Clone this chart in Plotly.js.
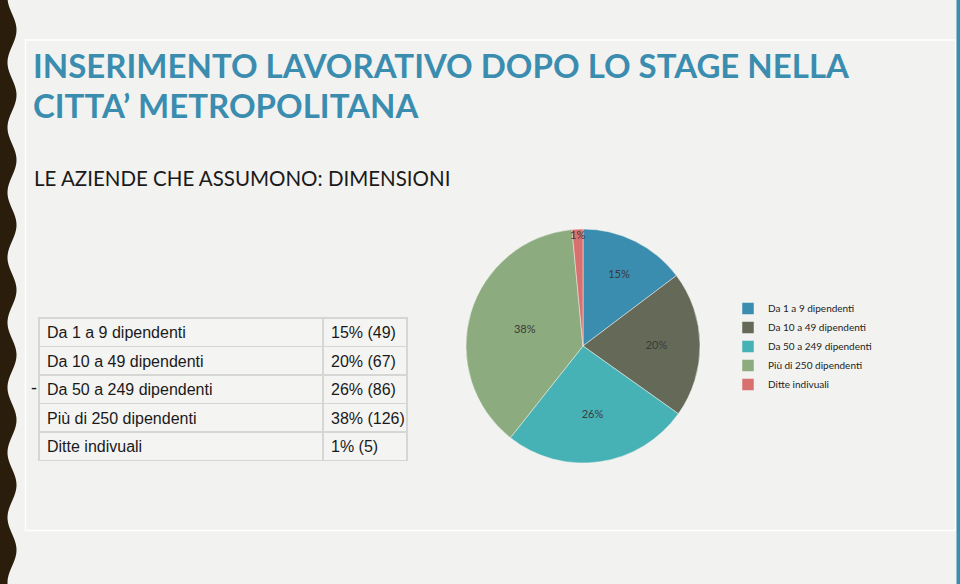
<!DOCTYPE html>
<html>
<head>
<meta charset="utf-8">
<script src="https://cdn.plot.ly/plotly-3.0.1.min.js"></script>
<style>
  html, body { margin: 0; padding: 0; background: #f2f2f0; }
  #chart { width: 960px; height: 584px; }
</style>
</head>
<body>
<div id="chart"></div>
<script>
// ---- Data ----
const categories = ["Da 1 a 9 dipendenti", "Da 10 a 49 dipendenti", "Da 50 a 249 dipendenti", "Più di 250 dipendenti", "Ditte indivuali"];
const tableLabels = ["Da 1 a 9 dipendenti", "Da 10 a 49 dipendenti", "Da 50 a 249 dipendenti", "Più di 250 dipendenti", "Ditte indivuali"];
const counts = [49, 67, 86, 126, 5];
const pctLabels = ["15%", "20%", "26%", "38%", "1%"];
const tableValues = ["15% (49)", "20% (67)", "26% (86)", "38% (126)", "1% (5)"];
const sliceColors = ["#3b8db0", "#646a57", "#47b2b6", "#8cab7e", "#d8706f"];

const titleLine1 = "INSERIMENTO LAVORATIVO DOPO LO STAGE NELLA";
const titleLine2 = "CITTA’ METROPOLITANA";
const subtitleText = "LE AZIENDE CHE ASSUMONO: DIMENSIONI";

// ---- helpers (pixel -> paper) ----
const W = 960, H = 584;
const X = p => p / W;
const Y = p => 1 - p / H;
const nb = s => s.split(" ").join("\u00a0");   // keep table cells on one line

// wavy left border (decoration)
let wave = "M 0," + Y(0);
for (let y = 0; y <= H; y += 2) {
  const x = 12 + 4.5 * Math.cos(2 * Math.PI * (y - 30) / 65);
  wave += " L " + X(x).toFixed(5) + "," + Y(y).toFixed(5);
}
wave += " L 0," + Y(H) + " Z";

const pie = {
  type: "pie",
  values: counts,
  labels: categories,
  text: pctLabels,
  textinfo: "text",
  textposition: "inside",
  insidetextorientation: "horizontal",
  sort: false,
  direction: "clockwise",
  rotation: 0,
  marker: { colors: sliceColors, line: { color: "#f2f2f0", width: 0.5 } },
  textfont: { family: "Lato, 'Open Sans', sans-serif", size: 11, color: "#3a3a3a" },
  domain: { x: [X(466), X(700)], y: [Y(463), Y(229)] },
  hoverinfo: "label+value+percent"
};

const cellFont = { family: "'Liberation Sans', Arial, sans-serif", size: 16, color: "#1a1a1a" };
const cellFill = { color: "#f4f4f3" };
const cellLine = { color: "#d6d6d4", width: 1.5 };

const table = {
  type: "table",
  columnwidth: [284, 84],
  domain: { x: [X(39), X(408)], y: [Y(461), Y(318)] },
  header: {
    values: [[nb(tableLabels[0])], [nb(tableValues[0])]],
    align: "left", height: 28.5, fill: cellFill, line: cellLine, font: cellFont
  },
  cells: {
    values: [tableLabels.slice(1).map(nb), tableValues.slice(1).map(nb)],
    align: "left", height: 28.5, fill: cellFill, line: cellLine, font: cellFont
  }
};

const titleFont = { family: "Lato, 'Open Sans', sans-serif", size: 33, color: "#3b8db0" };

const layout = {
  width: W, height: H,
  margin: { l: 0, r: 0, t: 0, b: 0 },
  paper_bgcolor: "#f2f2f0",
  plot_bgcolor: "#f2f2f0",
  showlegend: true,
  uniformtext: { minsize: 11, mode: "show" },
  legend: {
    x: X(728), y: Y(294), xanchor: "left", yanchor: "top",
    font: { family: "Lato, 'Open Sans', sans-serif", size: 10, color: "#222" },
    bgcolor: "rgba(0,0,0,0)",
    itemwidth: 30,
    tracegroupgap: 0
  },
  shapes: [
    { type: "rect", xref: "paper", yref: "paper", x0: X(25.5), x1: X(955.5), y0: Y(530.5), y1: Y(40), line: { color: "#ffffff", width: 1.5 }, fillcolor: "rgba(0,0,0,0)", layer: "below" },
    { type: "rect", xref: "paper", yref: "paper", x0: X(956.5), x1: X(960), y0: 0, y1: 1, line: { width: 0 }, fillcolor: "#3b8db0" },
    { type: "path", xref: "paper", yref: "paper", path: wave, line: { width: 0 }, fillcolor: "#2b1d0b" }
  ],
  annotations: [
    { xref: "paper", yref: "paper", x: X(31), y: Y(43), xanchor: "left", yanchor: "top", align: "left", showarrow: false,
      text: "<b>" + titleLine1 + "</b>", font: titleFont },
    { xref: "paper", yref: "paper", x: X(31), y: Y(83), xanchor: "left", yanchor: "top", align: "left", showarrow: false,
      text: "<b>" + titleLine2 + "</b>", font: titleFont },
    { xref: "paper", yref: "paper", x: X(32), y: Y(164), xanchor: "left", yanchor: "top", align: "left", showarrow: false,
      text: subtitleText,
      font: { family: "Lato, 'Open Sans', sans-serif", size: 20.5, color: "#1a1a1a" } },
    { xref: "paper", yref: "paper", x: X(29), y: Y(388), xanchor: "left", yanchor: "middle", showarrow: false,
      text: "-", font: { family: "Liberation Sans, sans-serif", size: 18, color: "#1a1a1a" } }
  ]
};

Plotly.newPlot("chart", [table, pie], layout, { displayModeBar: false, staticPlot: true });
</script>
</body>
</html>
